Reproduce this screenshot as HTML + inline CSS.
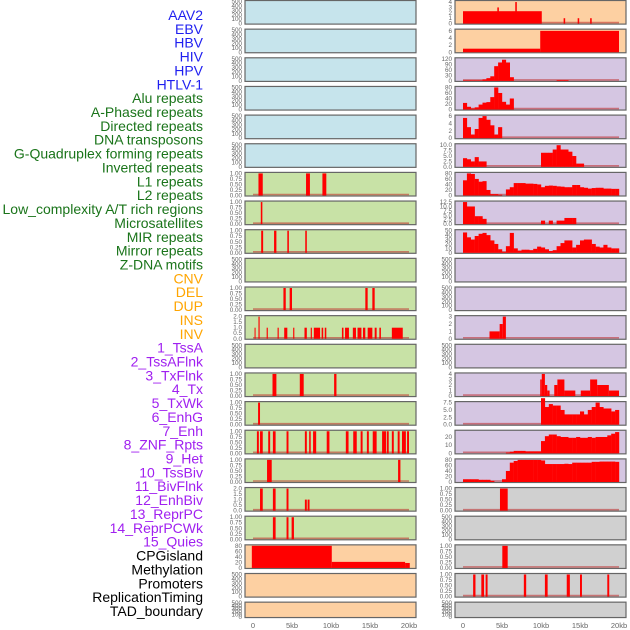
<!DOCTYPE html>
<html><head><meta charset="utf-8"><style>
html,body{margin:0;padding:0;background:#fff;width:630px;height:630px;overflow:hidden}
svg{display:block}
.lab{font-family:"Liberation Sans",sans-serif;font-size:14px;text-anchor:end}
.tk{font-family:"Liberation Sans",sans-serif;font-size:6.3px;fill:#666;text-anchor:end}
.xt{font-family:"Liberation Sans",sans-serif;font-size:7.5px;fill:#666;text-anchor:middle}
</style></head><body>
<svg id="chart" width="630" height="630"></svg>
<script>
// ---- labels ----
const trackLabels = ["AAV2","EBV","HBV","HIV","HPV","HTLV-1","Alu repeats","A-Phased repeats","Directed repeats","DNA transposons","G-Quadruplex forming repeats","Inverted repeats","L1 repeats","L2 repeats","Low_complexity A/T rich regions","Microsatellites","MIR repeats","Mirror repeats","Z-DNA motifs","CNV","DEL","DUP","INS","INV","1_TssA","2_TssAFlnk","3_TxFlnk","4_Tx","5_TxWk","6_EnhG","7_Enh","8_ZNF_Rpts","9_Het","10_TssBiv","11_BivFlnk","12_EnhBiv","13_ReprPC","14_ReprPCWk","15_Quies","CPGisland","Methylation","Promoters","ReplicationTiming","TAD_boundary"];
const labelGroups = ["v","v","v","v","v","v","r","r","r","r","r","r","r","r","r","r","r","r","r","c","c","c","c","c","s","s","s","s","s","s","s","s","s","s","s","s","s","s","s","o","o","o","o","o"];
const xTickLabels = ["0","5kb","10kb","15kb","20kb"];
const xTickValues = [0,5,10,15,20];
const ticksEmpty = [0,100,200,300,400,500];
const ticksUnit = [0,0.25,0.5,0.75,1.0];
const ticksTwo = [0,0.5,1.0,1.5,2.0];

// ---- left column data (segments: [startKb,endKb,value]) ----
const segAlu = [[0.7,1.25,1],[6.8,7.3,1],[8.9,9.4,1]];
const segAPhased = [[1.0,1.2,1]];
const segDirected = [[1.05,1.3,1],[2.7,3.0,1],[4.4,4.6,1],[6.7,6.9,1]];
const segGQuad = [[3.9,4.2,1],[4.7,5.0,1],[14.4,14.7,1],[15.3,15.6,1]];
const segInverted = [[0.2,0.3,1],[0.7,0.85,2],[1.75,1.9,1],[3.15,3.3,1],[4.0,4.4,1],[5.15,5.3,1],[6.6,6.9,1],[7.4,7.55,1],[7.8,8.6,1],[8.8,9.0,1],[9.2,9.4,1],[11.4,11.6,1],[11.8,12.3,1],[12.8,13.2,1],[13.4,13.9,1],[14.1,14.4,1],[14.7,15.3,1],[15.6,15.85,1],[16.2,16.4,1],[17.8,19.2,1]];
const segLowComplex = [[2.5,3.0,1],[6.0,6.5,1],[10.4,10.7,1]];
const segMicro = [[0.65,0.9,1]];
const segMIR = [[0.5,0.75,1],[0.9,1.25,1],[1.95,2.2,1],[2.55,2.9,1],[4.3,4.55,1],[6.65,6.9,1],[7.2,7.4,1],[7.7,8.1,1],[9.45,9.8,1],[11.9,12.25,1],[12.85,13.3,1],[13.8,14.05,1],[14.6,14.85,1],[15.35,15.85,1],[16.55,17.05,1],[17.15,17.4,1],[17.8,18.05,1],[18.55,18.8,1],[19.1,19.6,1],[19.75,20.0,1]];
const segMirror = [[1.8,2.4,1],[18.6,18.9,1]];
const segZDNA = [[0.9,1.25,2],[2.55,2.9,2],[4.3,4.55,2],[6.65,6.9,1],[7.0,7.25,1]];
const segCNV = [[2.55,2.9,1],[4.3,4.55,1],[4.95,5.25,1]];
const segDEL = [[-0.15,10.1,80],[10.1,19.5,22],[19.5,20.1,18]];

// ---- right column data ----
const segINS = [[0,10.1,2.3],[4.4,4.6,3],[6.7,6.9,4],[12.9,13.1,1],[14.7,14.9,1],[16.3,16.5,1]];
const segINV = [[0,9.9,1],[9.9,20.0,6]];
const binsTssA = [3,3,3,3,3,8,15,25,80,100,115,100,20,0,0,0,0,0,0,0,0,0,0,0,4,4,4,0,0,0,0,0,0,0,0,0,0,0,0,0];
const binsTssAFlnk = [24,10,4,8,18,25,27,45,80,60,28,18,40,0,0,0,0,0,0,0,0,0,0,0,0,0,0,0,0,0,0,0,0,0,0,0,0,0,0,0];
const binsTxFlnk = [5.5,3,1,2.5,5.5,6,5,3.5,1,3,0,0,0,0,0,0,0,0,0,0,0,0,0,0,0,0,0,0,0,0,0,0,0,0,0,0,0,0,0,0];
const binsTx = [4,3.5,2.5,4.5,2.5,2.5,0,0,0,0,0,0,0,0,0,0,0,0,0,0,6.5,6.5,6.5,8,10,8,8,7,5,1.5,1.5,0,0,0,0,0,0,0,0,0];
const binsTxWk = [55,80,78,60,50,52,20,5,5,3,0,22,30,45,45,45,43,43,42,40,30,35,36,35,33,32,30,30,38,38,30,28,25,27,28,28,25,25,24,24];
const binsEnhG = [12.5,10,10,4.5,4.5,3,0,0,0,0,0,0,0,0,0,0,0,0,0,0,2,0,2,0,2,2,3.5,3.5,3.5,0,0,0,0,0,0,0,0,0,0,0];
const binsEnh = [46,35,30,38,43,45,40,28,20,8,2,15,45,10,5,7,7,6,9,14,12,8,4,6,15,22,28,28,12,18,28,30,30,20,14,12,18,12,10,10];
const segHet = [[3.4,4.7,1],[4.7,5.1,2],[5.1,5.5,3]];
const segReprPC = [[9.9,10.1,3],[10.1,10.5,4],[10.5,10.8,2],[10.8,11.1,1],[11.7,12.1,2],[12.1,13.0,3],[13.0,14.4,1],[15.1,16.3,1],[16.3,17.2,3],[17.2,18.7,2],[18.7,20.0,1]];
const binsReprPCWk = [0,0,0,0,0,0,0,0,0,0,0,0,0,0,0,0,0,0,0,0,9,6,7,6.5,6.5,5,3.5,3.5,3.5,3.5,4.5,3.5,5,6,7.5,6,5.5,5.5,4.5,5];
const binsQuies = [0,0,0,0,0,0,0,0,0,0,0,1,2,3,3,3,2.5,2.5,2.5,2.5,15,21,23,23,21,20,20,19,19,20,19,19,20,19,20,20,20,22,24,26];
const binsCPG = [10,10,10,10,8,8,8,4,0,0,10,40,70,76,80,80,80,80,80,80,78,65,65,65,65,65,66,65,70,70,70,70,70,73,73,74,74,74,74,73];
const segMeth = [[4.74,5.73,1]];
const segRepl = [[5.04,5.73,1]];
const segTAD2 = [[1.3,1.6,1],[2.35,2.7,1],[2.9,3.15,1],[7.8,8.1,1],[10.5,10.85,1],[13.3,13.7,1],[15.0,15.25,1],[18.5,18.75,1]];

const BG = {b:"#c6e4ec",g:"#c8e2a6",o:"#fdd0a2",p:"#d5c6e2",k:"#d0d0d0"};
const NS="http://www.w3.org/2000/svg";
const svg=document.getElementById('chart');
function mk(t,a,p){const e=document.createElementNS(NS,t);for(const k in a)e.setAttribute(k,a[k]);(p||svg).appendChild(e);return e;}

const PITCH=28.65, PH=24.6, LASTH=16.4, PW=171;
const PANEL_X=[245,455], ZERO_X=[253,463], PXKB=7.8;
function xScale(col,kb){return ZERO_X[col]+kb*PXKB;}
function rowTop(r){return r*PITCH;}
function rowH(r){return r===21?LASTH:PH;}
function yScale(r,v,ymax){const b=rowTop(r)+rowH(r)-1;return b-(v/ymax)*(rowH(r)-2.5);}

function nums(n,max){const a=[];for(let i=0;i<=n;i++)a.push(+(max*i/n).toFixed(2));return a;}
function fmt(v,ticks){const m=Math.max(...ticks);if(m===1)return v.toFixed(2);if(ticks.some(t=>t%1!==0)){return v.toFixed(1);}return String(v);}

// panel specs: [col,row,bg,ticks,segs,bins]
const panels=[];
for(let r=0;r<6;r++)panels.push([0,r,"b",ticksEmpty,null,null]);
const leftGreen=[segAlu,segAPhased,segDirected,null,segGQuad,segInverted,null,segLowComplex,segMicro,segMIR,segMirror,segZDNA,segCNV];
leftGreen.forEach((s,i)=>{const r=6+i;let t=ticksEmpty;if(s)t=(s===segInverted||s===segZDNA)?ticksTwo:ticksUnit;panels.push([0,r,"g",t,s,null]);});
panels.push([0,19,"o",[0,20,40,60,80],segDEL,null]);
panels.push([0,20,"o",ticksEmpty,null,null]);
panels.push([0,21,"o",ticksEmpty,null,null]);
panels.push([1,0,"o",[0,1,2,3,4],segINS,null]);
panels.push([1,1,"o",[0,2,4,6],segINV,null]);
panels.push([1,2,"p",[0,30,60,90,120],null,binsTssA]);
panels.push([1,3,"p",[0,20,40,60,80],null,binsTssAFlnk]);
panels.push([1,4,"p",[0,2,4,6],null,binsTxFlnk]);
panels.push([1,5,"p",[0,2.5,5,7.5,10],null,binsTx]);
panels.push([1,6,"p",[0,20,40,60,80],null,binsTxWk]);
panels.push([1,7,"p",[0,2.5,5,7.5,10,12.5],null,binsEnhG]);
panels.push([1,8,"p",[0,10,20,30,40,50],null,binsEnh]);
panels.push([1,9,"p",ticksEmpty,null,null]);
panels.push([1,10,"p",ticksEmpty,null,null]);
panels.push([1,11,"p",[0,1,2,3],segHet,null]);
panels.push([1,12,"p",ticksEmpty,null,null]);
panels.push([1,13,"p",[0,1,2,3,4],segReprPC,null]);
panels.push([1,14,"p",[0,2.5,5,7.5],null,binsReprPCWk]);
panels.push([1,15,"p",[0,10,20],null,binsQuies]);
panels.push([1,16,"p",[0,20,40,60,80],null,binsCPG]);
panels.push([1,17,"k",ticksUnit,segMeth,null]);
panels.push([1,18,"k",ticksEmpty,null,null]);
panels.push([1,19,"k",ticksUnit,segRepl,null]);
panels.push([1,20,"k",ticksUnit,segTAD2,null]);
panels.push([1,21,"k",ticksEmpty,null,null]);

const ymaxOverride={};
panels.forEach(p=>{
  const [col,r,bg,ticks,segs,bins]=p;
  const top=rowTop(r),h=rowH(r);
  let ymax=Math.max(...ticks);
  if(segs===segINV)ymax=6.2;
  if(bins===binsQuies)ymax=27;
  if(segs===segINS)ymax=4.1;
  if(bins===binsTx)ymax=10.2;
  const g=mk('g',{});
  
  
  const rc=mk('rect',{x:PANEL_X[col],y:top+0.5,width:PW,height:h-1,fill:BG[bg],stroke:"#666","stroke-width":1.2},g);
  
  
  ticks.forEach(v=>{
    const t=mk('text',{x:PANEL_X[col]-3,y:yScale(r,v,ymax)+2,class:"tk"},g);
    t.textContent=fmt(v,ticks);
    
    
  });
  if(segs||bins){
    const bl=mk('line',{x1:xScale(col,0),x2:xScale(col,20),y1:top+h-2,y2:top+h-2,stroke:"rgba(190,40,40,0.55)","stroke-width":1.6},g);
    
    
  }
  const base=yScale(r,0,ymax);
  if(segs)segs.forEach(s=>{
    const y=yScale(r,s[2],ymax);
    const b=mk('rect',{x:xScale(col,s[0]),y:y,width:Math.max(1,xScale(col,s[1])-xScale(col,s[0])),height:base-y,fill:"#ff0000"},g);
    
    
  });
  if(bins)bins.forEach((v,i)=>{
    if(v<=0)return;
    const y=yScale(r,v,ymax);
    const b=mk('rect',{x:xScale(col,i*0.5),y:y,width:0.5*PXKB+0.2,height:base-y,fill:"#ff0000"},g);
    
    
  });
});

// x axes
[0,1].forEach(col=>{
  xTickValues.forEach((v,i)=>{
    const t=mk('text',{x:xScale(col,v),y:628,class:"xt"});
    t.textContent=xTickLabels[i];
    
    
  });
});

// labels
const COLORS={v:"#1f1ff0",r:"#1a741a",c:"#ffa500",s:"#a020f0",o:"#000000"};
trackLabels.forEach((l,i)=>{
  const t=mk('text',{x:203,y:20+i*13.86,class:"lab",fill:COLORS[labelGroups[i]]});
  t.textContent=l;
  
  
});
</script>
</body></html>
